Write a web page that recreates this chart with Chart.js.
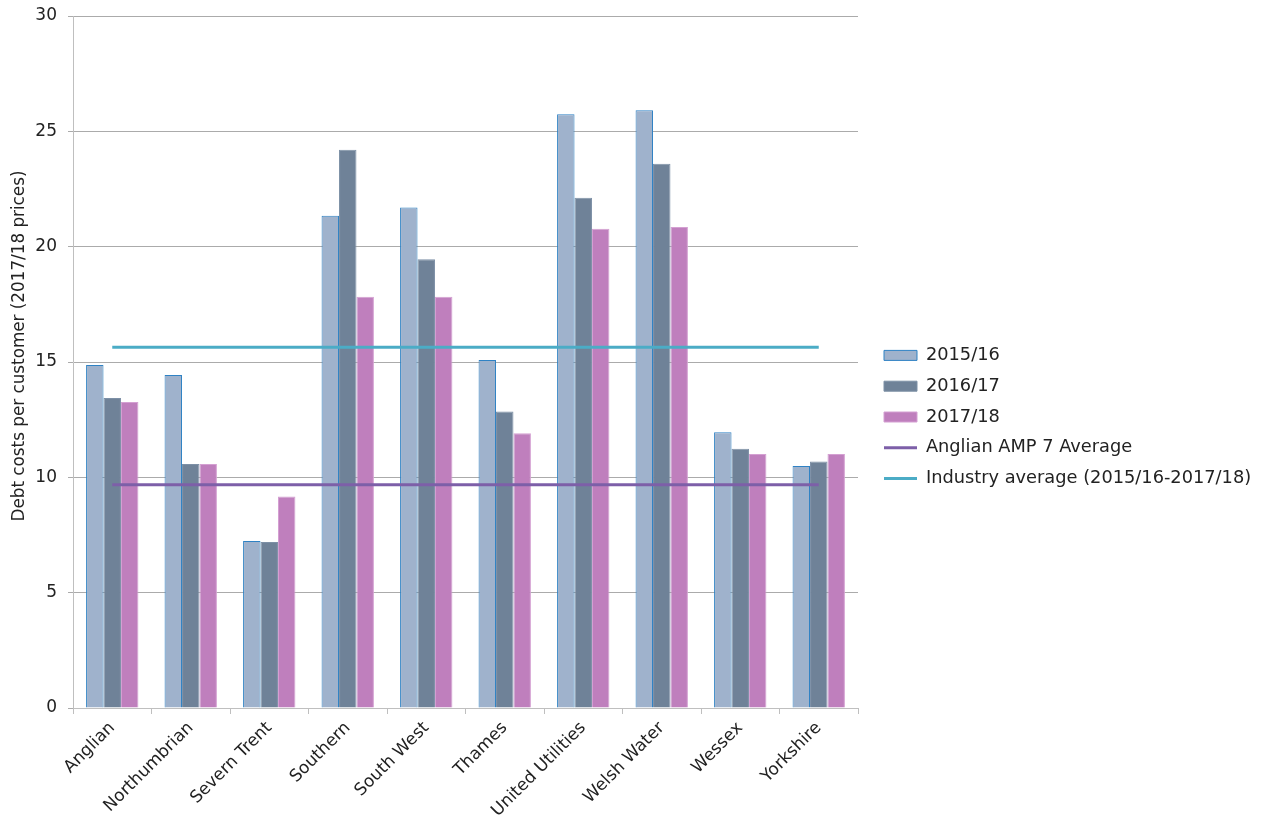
<!DOCTYPE html>
<html>
<head>
<meta charset="utf-8">
<script src="https://cdn.jsdelivr.net/npm/chart.js@4.4.0/dist/chart.umd.min.js"></script>
<style>
  html, body { margin: 0; padding: 0; background: #ffffff; }
  #wrap { width: 1265px; height: 822px; }
</style>
</head>
<body>
<div id="wrap"><canvas id="c" width="1265" height="822"></canvas></div>
<script>
const categories = ['Anglian', 'Northumbrian', 'Severn Trent', 'Southern', 'South West', 'Thames', 'United Utilities', 'Welsh Water', 'Wessex', 'Yorkshire'];
const values2015 = [14.87, 14.44, 7.24, 21.34, 21.70, 15.09, 25.74, 25.91, 11.95, 10.49];
const values2016 = [13.44, 10.58, 7.20, 24.20, 19.45, 12.85, 22.12, 23.60, 11.24, 10.69];
const values2017 = [13.27, 10.58, 9.17, 17.83, 17.83, 11.91, 20.78, 20.85, 11.01, 11.01];
const anglianAmp7Average = 9.68;
const industryAverage = 15.64;
const yTicks = [0, 5, 10, 15, 20, 25, 30];
const seriesLabels = ['2015/16', '2016/17', '2017/18', 'Anglian AMP 7 Average', 'Industry average (2015/16-2017/18)'];
const yTitle = 'Debt costs per customer (2017/18 prices)';

const FONT = 'DejaVu Sans';
const LEGEND_SIZE = 17.8;
const LEGEND_PAD = 13;
const LEGEND_BOX = 33;

// measure widest legend text so the legend sits where the reference has it
const mctx = document.createElement('canvas').getContext('2d');
mctx.font = LEGEND_SIZE + 'px "' + FONT + '"';
const maxText = Math.max(...seriesLabels.map(t => mctx.measureText(t).width));
const legendWidth = 2 * LEGEND_PAD + LEGEND_BOX + LEGEND_SIZE / 2 + maxText - 4;
const legendLeft = 885 - LEGEND_PAD;
const rightPad = Math.max(0, 1265 - legendLeft - legendWidth);

new Chart(document.getElementById('c'), {
  data: {
    labels: categories,
    datasets: [
      { type: 'bar', label: seriesLabels[0], data: values2015, backgroundColor: '#9fb2cc', borderColor: '#2f82c4', borderWidth: 1, order: 2 },
      { type: 'bar', label: seriesLabels[1], data: values2016, backgroundColor: '#6f8298', borderColor: '#7d90a6', borderWidth: 1, order: 2 },
      { type: 'bar', label: seriesLabels[2], data: values2017, backgroundColor: '#bf7fbd', borderColor: '#d4a0d2', borderWidth: 1, order: 2 },
      { type: 'line', label: seriesLabels[3], data: categories.map(() => anglianAmp7Average), borderColor: '#7d5fa8', backgroundColor: '#7d5fa8', borderWidth: 3, pointRadius: 0, order: 1 },
      { type: 'line', label: seriesLabels[4], data: categories.map(() => industryAverage), borderColor: '#4bacc6', backgroundColor: '#4bacc6', borderWidth: 3, pointRadius: 0, order: 1 }
    ]
  },
  options: {
    responsive: false,
    animation: false,
    layout: { padding: { left: 0, top: 0, right: rightPad, bottom: 0 } },
    datasets: { bar: { categoryPercentage: 0.667, barPercentage: 1.0 } },
    plugins: {
      tooltip: { enabled: false },
      legend: {
        position: 'right',
        align: 'center',
        maxWidth: 600,
        title: { display: true, text: ' ', font: { size: 10, lineHeight: 1.2 }, padding: 0 },
        labels: {
          font: { family: FONT, size: LEGEND_SIZE },
          color: '#222',
          usePointStyle: true,
          pointStyleWidth: LEGEND_BOX,
          boxWidth: LEGEND_BOX,
          boxHeight: 10,
          padding: LEGEND_PAD,
          sort: (a, b) => a.datasetIndex - b.datasetIndex,
          generateLabels: (chart) => {
            const items = Chart.defaults.plugins.legend.labels.generateLabels(chart);
            return items.map(it => {
              const ds = chart.data.datasets[it.datasetIndex];
              it.pointStyle = ds.type === 'line' ? 'line' : 'rect';
              it.lineWidth = ds.type === 'line' ? 3 : 1;
              it.strokeStyle = ds.borderColor;
              it.fillStyle = ds.backgroundColor;
              return it;
            });
          }
        }
      }
    },
    scales: {
      x: {
        offset: true,
        grid: { display: true, offset: true, drawOnChartArea: false, drawTicks: true, tickLength: 6, color: '#bfbfbf' },
        border: { display: true, color: '#bfbfbf' },
        ticks: { font: { family: FONT, size: 17 }, color: '#222', maxRotation: 45, minRotation: 45, padding: 4 },
        afterFit: (s) => { s.height = 822 - 708; }
      },
      y: {
        min: 0,
        max: 30,
        afterBuildTicks: (scale) => { scale.ticks = yTicks.map(v => ({ value: v })); },
        grid: { color: '#ababab', tickLength: 5, drawTicks: true },
        border: { display: true, color: '#bfbfbf' },
        ticks: { font: { family: FONT, size: 17 }, color: '#222', padding: 11 },
        title: { display: true, text: '\u00a0'.repeat(6) + yTitle, font: { family: FONT, size: 16.8 }, color: '#222', padding: { top: 10, bottom: 4 } },
        afterFit: (s) => { s.width = 73; s.paddingTop = 16; }
      },
      spacer: {
        type: 'linear',
        position: 'right',
        display: true,
        grid: { display: false, drawTicks: false },
        border: { display: false },
        ticks: { display: false },
        afterFit: (s) => { s.width = legendLeft - 859; }
      }
    }
  }
});
</script>
</body>
</html>
